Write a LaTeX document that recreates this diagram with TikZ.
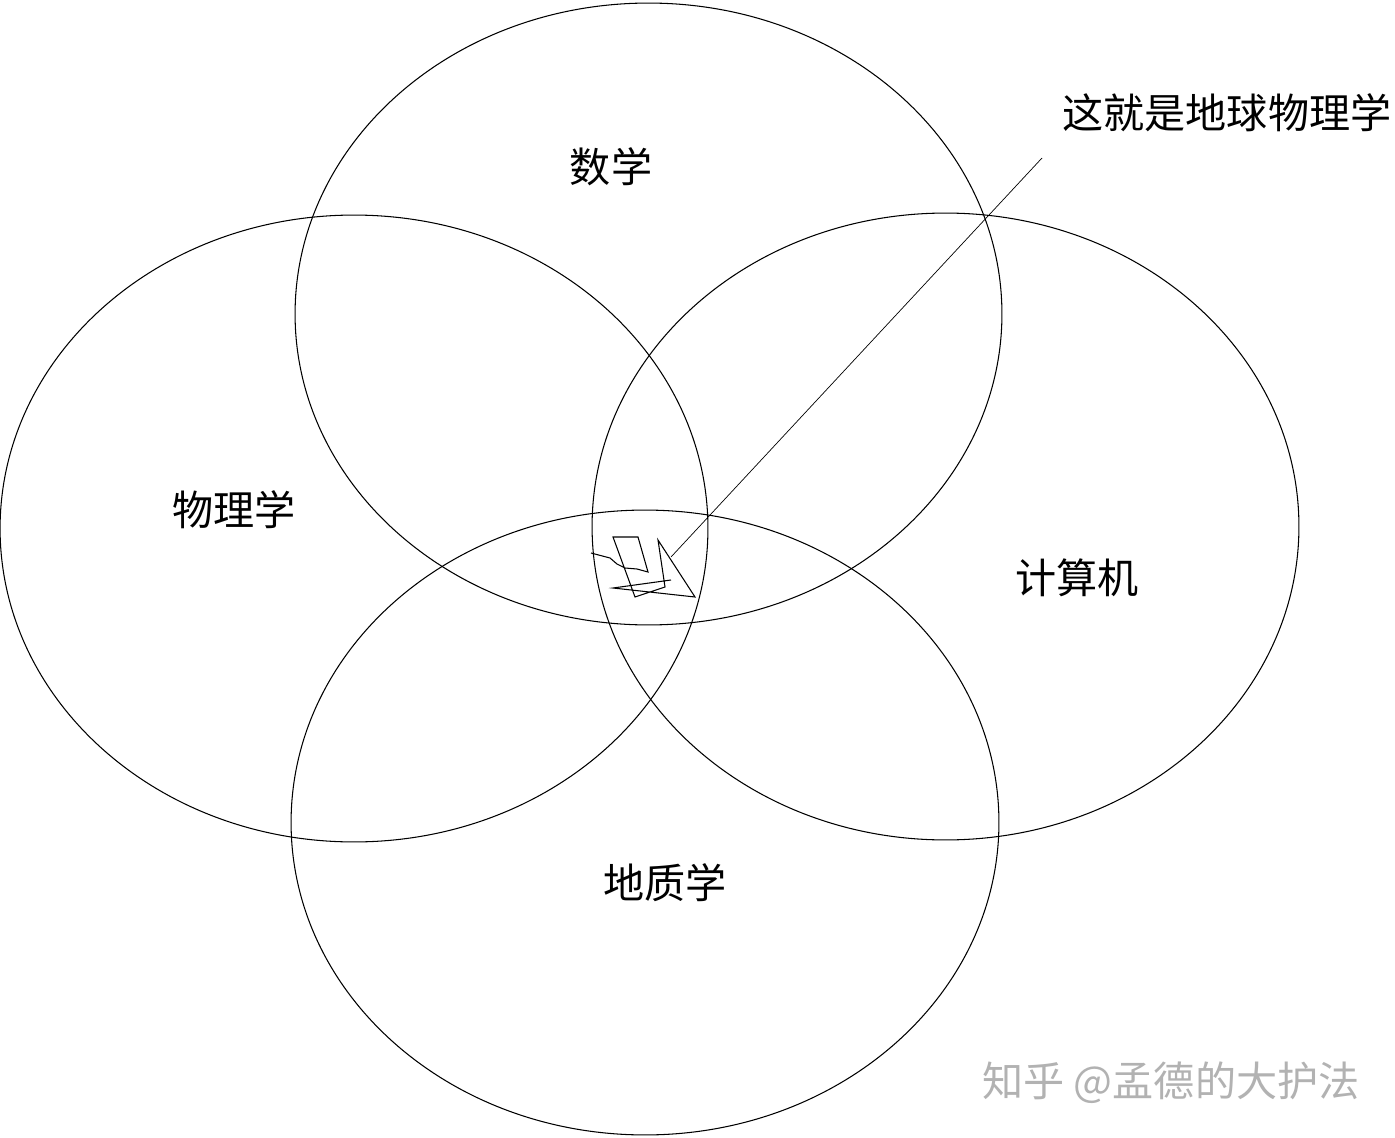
\documentclass[tikz,border=0pt]{standalone}
\usepackage{fontspec}
\usetikzlibrary{shapes.geometric}
\newfontfamily\cjk{Noto Sans CJK SC}

\begin{document}
\begin{tikzpicture}[x=0.02cm,y=-0.02cm,line width=0.6pt,
  field/.style={draw,ellipse,inner sep=0pt},
  lbl/.style={font=\cjk\fontsize{23.4}{28}\selectfont,inner sep=0pt}]
\useasboundingbox (0,0) rectangle (1395,1138);

\node[field,minimum width=14.14cm,minimum height=12.44cm](math) at (648.5,314){};
\node[field,minimum width=14.16cm,minimum height=12.54cm](phys) at (354,528.5){};
\node[field,minimum width=14.14cm,minimum height=12.54cm](comp) at (945.5,526.5){};
\node[field,minimum width=14.16cm,minimum height=12.50cm](geol) at (645,822.5){};

\node[lbl](lmath) at (611,167){数学};
\node[lbl](lphys) at (234,510){物理学};
\node[lbl](lcomp) at (1077,578){计算机};
\node[lbl](lgeol) at (665,883){地质学};
\node[lbl,anchor=west](lgp) at (1062,113){这就是地球物理学};

% scribble in the middle
\coordinate (tip) at (671,557);
\coordinate (tail) at (1042,158);
\draw (591,553) -- (610,558) -- (617,564) -- (625,568) -- (637,569) -- (648,572)
  -- (638,537) -- (613,537) -- (635,597) -- (665,587) -- (658,540) -- (695,597)
  -- (613,588) -- (671,580);
\draw[line width=0.4pt] (tip) -- (tail);

\node[lbl,text=black!30](mark) at (1171,1083){知乎 @孟德的大护法};
\end{tikzpicture}
\end{document}
